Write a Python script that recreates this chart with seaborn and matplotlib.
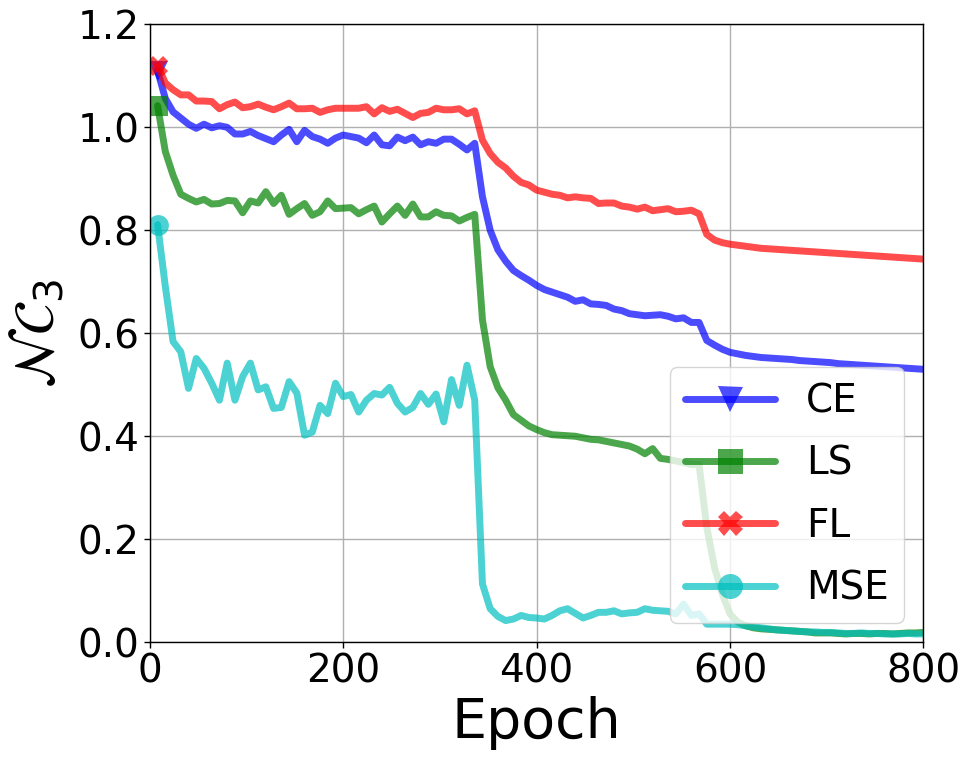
import numpy as np
import pandas as pd
import matplotlib
matplotlib.use("Agg")
import matplotlib.pyplot as plt
import seaborn as sns

# epochs: every 8th epoch up to 800
epochs = np.arange(8, 801, 8)

ce = [1.11, 1.056, 1.03, 1.018, 1.006, 0.998, 1.006, 0.999, 1.003, 1.0,
      0.987, 0.987, 0.992, 0.984, 0.978, 0.972, 0.985, 0.996, 0.972, 0.994,
      0.982, 0.977, 0.969, 0.979, 0.985, 0.982, 0.979, 0.97, 0.985, 0.966,
      0.964, 0.981, 0.974, 0.981, 0.966, 0.972, 0.969, 0.977, 0.977, 0.967,
      0.956, 0.969, 0.865, 0.80, 0.762, 0.74, 0.722, 0.712, 0.703, 0.693,
      0.685, 0.68, 0.675, 0.67, 0.662, 0.665, 0.657, 0.656, 0.654, 0.647,
      0.644, 0.638, 0.636, 0.634, 0.635, 0.636, 0.633, 0.628, 0.63, 0.621,
      0.621, 0.586, 0.577, 0.569, 0.563, 0.56, 0.557, 0.555, 0.553, 0.552,
      0.551, 0.55, 0.549, 0.547, 0.546, 0.545, 0.544, 0.543, 0.541, 0.54,
      0.539, 0.538, 0.537, 0.536, 0.535, 0.534, 0.533, 0.532, 0.531, 0.53]

ls = [1.042, 0.953, 0.907, 0.87, 0.862, 0.855, 0.86, 0.851, 0.852, 0.858,
      0.857, 0.834, 0.857, 0.853, 0.875, 0.852, 0.868, 0.831, 0.842, 0.852,
      0.829, 0.836, 0.857, 0.842, 0.843, 0.844, 0.832, 0.84, 0.847, 0.816,
      0.832, 0.847, 0.829, 0.851, 0.826, 0.826, 0.836, 0.829, 0.828, 0.818,
      0.825, 0.831, 0.626, 0.535, 0.494, 0.47, 0.442, 0.431, 0.42, 0.413,
      0.407, 0.403, 0.402, 0.401, 0.4, 0.397, 0.394, 0.393, 0.39, 0.387,
      0.384, 0.381, 0.375, 0.366, 0.376, 0.357, 0.355, 0.352, 0.349, 0.345,
      0.345, 0.223, 0.145, 0.094, 0.055, 0.039, 0.032, 0.028, 0.026, 0.025,
      0.024, 0.023, 0.022, 0.021, 0.02, 0.018, 0.018, 0.018, 0.017, 0.016,
      0.017, 0.017, 0.016, 0.017, 0.017, 0.016, 0.017, 0.018, 0.018, 0.019]

fl = [1.12, 1.086, 1.073, 1.063, 1.063, 1.051, 1.051, 1.05, 1.036, 1.044,
      1.049, 1.038, 1.04, 1.045, 1.039, 1.034, 1.04, 1.047, 1.036, 1.036,
      1.037, 1.029, 1.034, 1.037, 1.037, 1.037, 1.037, 1.04, 1.026, 1.038,
      1.031, 1.035, 1.027, 1.019, 1.027, 1.029, 1.037, 1.034, 1.034, 1.036,
      1.026, 1.032, 0.975, 0.949, 0.932, 0.921, 0.905, 0.893, 0.888, 0.878,
      0.874, 0.87, 0.868, 0.863, 0.865, 0.863, 0.862, 0.852, 0.853, 0.853,
      0.847, 0.845, 0.841, 0.845, 0.838, 0.84, 0.842, 0.836, 0.837, 0.839,
      0.832, 0.792, 0.781, 0.776, 0.773, 0.771, 0.769, 0.767, 0.765, 0.764,
      0.763, 0.762, 0.761, 0.76, 0.759, 0.758, 0.757, 0.756, 0.755, 0.754,
      0.753, 0.752, 0.751, 0.75, 0.749, 0.748, 0.747, 0.746, 0.745, 0.744]

mse = [0.811, 0.691, 0.584, 0.564, 0.493, 0.551, 0.532, 0.503, 0.47, 0.542,
       0.47, 0.516, 0.542, 0.49, 0.496, 0.454, 0.456, 0.506, 0.484, 0.402,
       0.408, 0.46, 0.444, 0.503, 0.477, 0.481, 0.447, 0.47, 0.483, 0.48,
       0.495, 0.464, 0.447, 0.456, 0.483, 0.462, 0.482, 0.428, 0.51, 0.46,
       0.538, 0.47, 0.113, 0.065, 0.05, 0.042, 0.045, 0.052, 0.048, 0.047,
       0.045, 0.052, 0.061, 0.065, 0.056, 0.047, 0.052, 0.058, 0.058, 0.061,
       0.055, 0.057, 0.058, 0.065, 0.062, 0.061, 0.06, 0.055, 0.074, 0.052,
       0.055, 0.035, 0.035, 0.035, 0.035, 0.034, 0.032, 0.03, 0.028, 0.026,
       0.024, 0.023, 0.022, 0.021, 0.02, 0.02, 0.019, 0.019, 0.018, 0.017,
       0.017, 0.018, 0.017, 0.017, 0.016, 0.016, 0.016, 0.017, 0.016, 0.016]

losses = ['CE', 'LS', 'FL', 'MSE']
colors = ['b', 'g', 'r', 'c']
markers = ['v', 's', 'X', 'o']

sns.set_style("ticks", {'text.color': 'black', 'axes.labelcolor': 'black',
                        'xtick.color': 'black', 'ytick.color': 'black'})
plt.rcParams['font.family'] = ['DejaVu Sans']

fig, ax = plt.subplots(figsize=(9.73, 7.6), dpi=100)
fig.subplots_adjust(left=0.154, right=0.949, top=0.968, bottom=0.155)

for name, vals, col, mk in zip(losses, [ce, ls, fl, mse], colors, markers):
    df = pd.DataFrame({'Epoch': epochs, 'NC3': vals})
    sns.lineplot(data=df, x='Epoch', y='NC3', ax=ax, color=col, alpha=0.7,
                 linewidth=5, marker=mk, markersize=15, markevery=[0],
                 markeredgewidth=0, label=name)

ax.set_xlim(0, 800)
ax.set_ylim(0, 1.2)
ax.set_xticks([0, 200, 400, 600, 800])
ax.set_yticks([0.0, 0.2, 0.4, 0.6, 0.8, 1.0, 1.2])
ax.grid(True, color='#b0b0b0', linewidth=1)
ax.tick_params(labelsize=28, length=4, width=1, colors='black')
for sp in ax.spines.values():
    sp.set_color('black')
    sp.set_linewidth(1)
ax.set_xlabel('Epoch', fontsize=40, color='black')
ax.set_ylabel(r'$\mathcal{NC}_3$', fontsize=40, color='black', labelpad=8)
leg = ax.legend(loc='lower right', fontsize=28, handlelength=2.3,
                markerscale=1.2, labelspacing=0.62, borderpad=0.4)
for t in leg.get_texts():
    t.set_color('black')

fig.savefig('out.png', dpi=100)
